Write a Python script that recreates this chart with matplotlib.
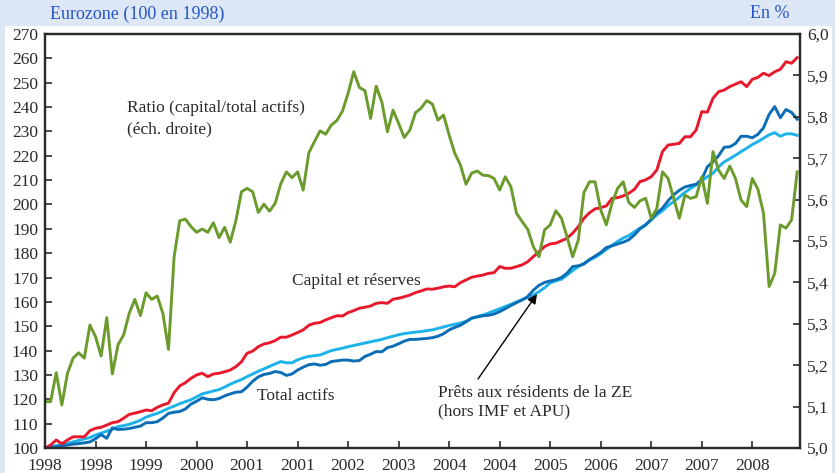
''' Eurozone banks: capital, assets and loans (100 in 1998),
with the capital / total assets ratio on the right axis. '''

import matplotlib
matplotlib.use('Agg')
import matplotlib.pyplot as plt
from matplotlib.patches import Rectangle

# monthly points, Jan 1998 onwards
capital = [100.0, 101.2, 103.3, 101.7, 103.3, 104.6, 104.6, 104.6, 107.1, 108.1,
           108.5, 109.4, 110.4, 110.8, 112.2, 113.8, 114.3, 114.9, 115.6, 115.3,
           116.7, 117.7, 118.4, 122.7, 125.5, 126.8, 128.6, 130.0, 130.7, 129.3,
           130.4, 130.7, 131.3, 132.0, 133.4, 135.4, 138.9, 139.8, 141.6, 142.7,
           143.2, 144.1, 145.5, 145.5, 146.4, 147.4, 148.5, 150.4, 151.2, 151.5,
           152.6, 153.5, 154.3, 154.2, 155.6, 156.4, 157.4, 157.8, 158.3, 159.4,
           159.7, 159.4, 161.1, 161.5, 162.1, 162.8, 163.8, 164.5, 165.3, 165.2,
           165.6, 166.2, 166.5, 166.2, 167.9, 169.0, 170.1, 170.6, 171.0, 171.7,
           172.0, 174.5, 173.8, 173.8, 174.5, 175.2, 176.5, 178.6, 180.6, 182.7,
           183.8, 184.1, 185.1, 186.1, 188.2, 190.9, 194.3, 196.6, 198.2, 198.7,
           199.4, 202.5, 202.8, 203.5, 204.6, 206.2, 209.4, 210.1, 211.4, 214.2,
           221.7, 224.4, 224.7, 225.1, 227.8, 227.8, 230.6, 238.1, 237.9, 243.6,
           246.3, 247.0, 248.4, 249.4, 250.4, 248.4, 251.4, 252.2, 253.9, 252.9,
           254.5, 255.5, 258.6, 258.0, 260.3]

total_actifs = [100.0, 100.3, 100.5, 100.8, 101.2, 101.6, 101.8, 102.1, 102.5, 103.8,
                105.5, 104.0, 108.3, 107.6, 107.7, 108.0, 108.5, 109.0, 110.4, 110.4,
                110.8, 112.3, 114.2, 114.7, 115.0, 116.0, 118.0, 119.2, 120.6, 120.0,
                119.8, 120.3, 121.4, 122.2, 122.9, 123.1, 125.0, 127.4, 129.2, 130.2,
                130.6, 131.4, 131.0, 129.8, 130.4, 132.0, 133.2, 134.2, 134.5, 134.0,
                134.3, 135.5, 135.8, 136.1, 136.1, 135.7, 135.9, 137.6, 138.5, 139.6,
                139.5, 141.2, 141.8, 142.8, 143.9, 144.6, 144.6, 144.8, 145.0, 145.3,
                145.9, 146.9, 148.5, 149.5, 150.4, 151.8, 153.3, 153.8, 154.3, 154.5,
                155.0, 156.0, 157.2, 158.5, 159.7, 160.8, 162.2, 164.8, 166.8, 168.0,
                168.6, 169.1, 170.0, 171.8, 174.5, 174.8, 175.5, 177.4, 178.8, 180.3,
                182.3, 183.0, 183.8, 184.5, 185.5, 187.5, 190.0, 191.5, 194.0, 196.5,
                198.5, 201.5, 204.0, 205.8, 207.2, 207.8, 208.3, 210.3, 215.5, 217.5,
                220.0, 223.5, 223.7, 225.0, 228.0, 228.0, 227.4, 228.8, 231.5, 237.0,
                240.2, 235.6, 239.0, 237.8, 235.0]

prets = [100.0, 100.5, 101.0, 101.4, 101.9, 102.5, 103.1, 103.7, 104.3, 105.3,
         106.1, 106.9, 107.6, 108.8, 109.2, 109.7, 110.5, 111.4, 112.7, 113.5,
         114.2, 115.2, 116.3, 117.2, 118.2, 119.0, 119.8, 121.0, 122.2, 122.8,
         123.4, 124.0, 125.0, 126.2, 127.2, 128.1, 129.3, 130.4, 131.5, 132.5,
         133.5, 134.5, 135.5, 135.0, 135.0, 136.2, 137.0, 137.6, 137.9, 138.2,
         139.1, 140.0, 140.5, 141.0, 141.6, 142.1, 142.6, 143.1, 143.6, 144.1,
         144.6, 145.3, 145.9, 146.5, 147.0, 147.3, 147.6, 147.8, 148.2, 148.5,
         149.1, 149.7, 150.3, 150.8, 151.3, 152.0, 153.3, 154.0, 154.6, 155.4,
         156.3, 157.2, 158.1, 159.0, 160.0, 160.9, 161.8, 162.8, 164.2, 165.8,
         167.8, 168.6, 169.3, 171.0, 172.8, 174.5, 175.8, 177.2, 178.3, 179.8,
         181.5, 183.2, 184.8, 186.2, 187.2, 188.8, 190.3, 191.8, 193.6, 195.8,
         197.4, 199.5, 201.2, 203.0, 205.0, 206.6, 208.0, 209.7, 211.4, 212.8,
         215.5, 217.5, 218.8, 220.2, 221.7, 223.1, 224.6, 225.8, 227.2, 228.6,
         229.5, 228.0, 229.0, 229.0, 228.4]

ratio = [5.112, 5.112, 5.182, 5.104, 5.180, 5.217, 5.230, 5.217, 5.297, 5.269,
         5.222, 5.315, 5.179, 5.249, 5.273, 5.325, 5.359, 5.320, 5.375, 5.359,
         5.367, 5.325, 5.238, 5.462, 5.549, 5.553, 5.535, 5.521, 5.529, 5.521,
         5.544, 5.508, 5.533, 5.497, 5.549, 5.619, 5.627, 5.619, 5.569, 5.589,
         5.572, 5.591, 5.638, 5.667, 5.653, 5.667, 5.623, 5.713, 5.740, 5.766,
         5.758, 5.780, 5.791, 5.814, 5.857, 5.909, 5.871, 5.863, 5.796, 5.874,
         5.836, 5.764, 5.816, 5.784, 5.750, 5.768, 5.810, 5.821, 5.839, 5.831,
         5.792, 5.804, 5.756, 5.712, 5.684, 5.637, 5.664, 5.669, 5.659, 5.658,
         5.651, 5.623, 5.655, 5.631, 5.567, 5.547, 5.528, 5.486, 5.462, 5.527,
         5.539, 5.573, 5.555, 5.510, 5.462, 5.502, 5.617, 5.643, 5.643, 5.575,
         5.539, 5.591, 5.627, 5.643, 5.593, 5.581, 5.597, 5.603, 5.555, 5.579,
         5.667, 5.651, 5.603, 5.555, 5.611, 5.603, 5.607, 5.655, 5.591, 5.716,
         5.671, 5.651, 5.681, 5.651, 5.599, 5.583, 5.651, 5.625, 5.567, 5.390,
         5.422, 5.539, 5.531, 5.551, 5.667]

x_labels = ['1998', '1998', '1999', '2000', '2001', '2001', '2002', '2003',
            '2004', '2004', '2005', '2006', '2007', '2007', '2008']
left_ticks = list(range(100, 271, 10))
right_ticks = [5.0, 5.1, 5.2, 5.3, 5.4, 5.5, 5.6, 5.7, 5.8, 5.9, 6.0]
right_labels = ['5,0', '5,1', '5,2', '5,3', '5,4', '5,5', '5,6', '5,7',
                '5,8', '5,9', '6,0']

W, H = 835, 473
RED = '#e8192c'
DARK = '#0b6db5'
LIGHT = '#1cb2ea'
GREEN = '#6b9b2c'
INK = '#2a2a2a'


def fx(px):
    return px / W


def fy(py):
    return 1 - py / H


def style_axis(axis):
    for side in axis.spines.values():
        side.set_linewidth(1.6)
        side.set_color(INK)
    axis.tick_params(direction='in', length=5, width=1.2, labelsize=12.5,
                     colors=INK, pad=5)


def main():
    plt.rcParams['font.family'] = ['Liberation Serif', 'DejaVu Serif']

    fig = plt.figure(figsize=(W / 100, H / 100), dpi=100)
    fig.patch.set_facecolor('#dde7f5')
    fig.add_artist(Rectangle((fx(5), 0), fx(832) - fx(5), fy(26),
                             transform=fig.transFigure, facecolor='white',
                             edgecolor='none', zorder=0))

    ax = fig.add_axes([fx(45), fy(448), fx(800) - fx(45), fy(34) - fy(448)])
    ax2 = ax.twinx()

    months = list(range(len(capital)))
    ax.plot(months, prets, color=LIGHT, lw=2.1)
    ax.plot(months, total_actifs, color=DARK, lw=2.1)
    ax.plot(months, capital, color=RED, lw=2.1)
    ax2.plot(months, ratio, color=GREEN, lw=2.1)

    ax.set_xlim(0, 134.5)
    ax.set_ylim(100, 270)
    ax2.set_ylim(5.0, 6.0)
    ax.set_xticks(range(0, 9 * len(x_labels), 9))
    ax.set_xticklabels(x_labels)
    ax.set_yticks(left_ticks)
    ax2.set_yticks(right_ticks)
    ax2.set_yticklabels(right_labels)
    style_axis(ax)
    style_axis(ax2)
    ax.tick_params(axis='x', pad=7)

    blue = '#2456c8'
    fig.text(fx(50), fy(14), 'Eurozone (100 en 1998)', color=blue,
             fontsize=13, va='center', ha='left')
    fig.text(fx(790), fy(14), 'En %', color=blue, fontsize=13,
             va='center', ha='right')

    notes = [(127, 108, 'Ratio (capital/total actifs)'),
             (127, 129, '(éch. droite)'),
             (292, 281, 'Capital et réserves'),
             (257, 396, 'Total actifs'),
             (438, 393, 'Prêts aux résidents de la ZE'),
             (438, 411, '(hors IMF et APU)')]
    for px, py, txt in notes:
        fig.text(fx(px), fy(py), txt, color=INK, fontsize=12.5,
                 va='center', ha='left')

    ax.annotate('', xy=(fx(537), fy(294)), xycoords='figure fraction',
                xytext=(fx(478), fy(379)), textcoords='figure fraction',
                arrowprops=dict(arrowstyle='-|>', color='black', lw=1,
                                mutation_scale=14, shrinkA=0, shrinkB=0))

    fig.savefig('out.png', dpi=100, facecolor=fig.get_facecolor())


if __name__ == '__main__':
    main()
